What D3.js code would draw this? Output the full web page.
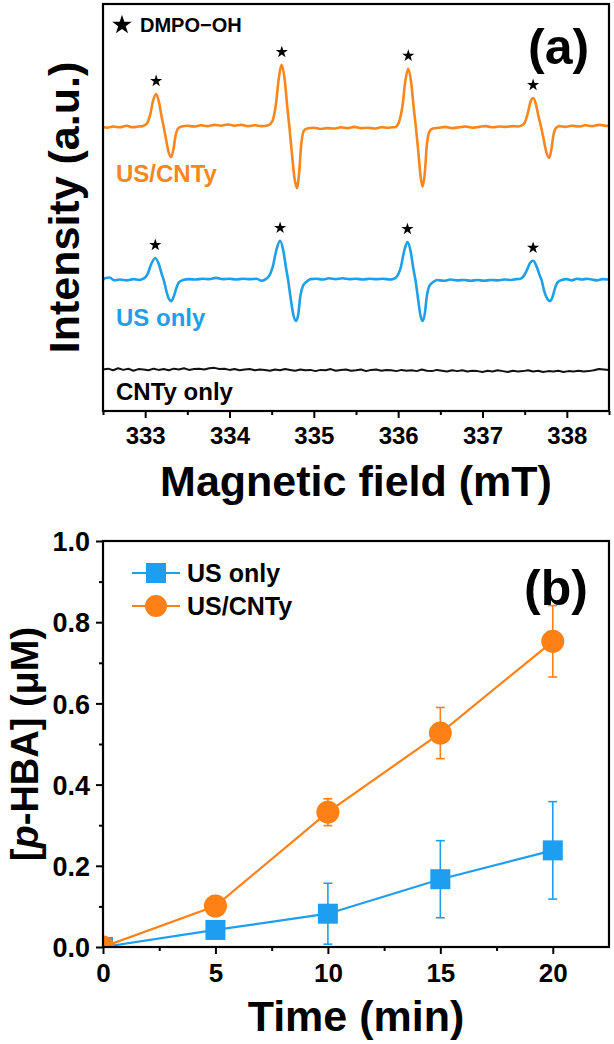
<!DOCTYPE html>
<html><head><meta charset="utf-8">
<script src="https://cdn.jsdelivr.net/npm/d3@7"></script>
<style>
body{margin:0;background:#fff}
svg{display:block}
text{font-family:"Liberation Sans",Arial,Helvetica,sans-serif;font-weight:bold;fill:#000}
</style>
</head><body>
<svg id="chart" width="614" height="1044"></svg>
<script>
// ---------------- Panel (a): EPR spectra ----------------
const fieldDomain = [332.5, 338.5];
const fieldTicks = [333, 334, 335, 336, 337, 338];
const fieldMinorTicks = [332.5, 333.5, 334.5, 335.5, 336.5, 337.5, 338.5];
const traceNames = ["US/CNTy", "US only", "CNTy only"];
const traceColors = ["#F6871E", "#1F9FE8", "#111111"];
const traceOffsets = [69.8, 32.2, 10.1];   // vertical stacking offsets (a.u.)
const starLabel = "DMPO\u2212OH";

// US/CNTy spectrum [field (mT), intensity (a.u.)]
const spectrumUSCNTy = [
[332.50,0.0],[332.55,-0.2],[332.62,0.1],[332.70,-0.1],[332.78,0.3],[332.85,-0.1],[332.92,0.1],
[332.97,0.2],[333.02,0.8],[333.06,3.0],[333.095,6.5],[333.13,8.1],[333.165,6.0],[333.195,2.5],[333.22,0.0],[333.25,-3.3],[333.28,-6.3],[333.31,-7.4],[333.335,-5.5],[333.36,-2.2],[333.39,-0.4],[333.43,0.1],
[333.50,0.3],[333.58,0.1],[333.66,0.4],[333.74,0.2],[333.82,0.5],[333.90,0.3],[333.98,0.6],[334.06,0.3],[334.14,0.5],[334.22,0.2],[334.30,0.4],[334.38,0.2],[334.44,0.3],
[334.47,0.5],[334.51,1.5],[334.55,5.5],[334.585,12.0],[334.62,15.2],[334.655,11.5],[334.685,5.0],[334.71,0.0],[334.74,-6.5],[334.77,-12.5],[334.80,-15.0],[334.825,-11.5],[334.85,-4.5],[334.88,-1.0],[334.92,-0.4],
[335.00,-0.2],[335.08,-0.5],[335.16,-0.3],[335.24,-0.4],[335.32,-0.1],[335.40,-0.3],[335.48,0.0],[335.56,-0.3],[335.64,-0.2],[335.72,-0.4],[335.80,-0.1],[335.88,-0.2],[335.94,-0.1],
[335.97,0.0],[336.01,1.2],[336.05,5.0],[336.085,11.3],[336.12,14.3],[336.155,10.8],[336.185,4.6],[336.21,0.0],[336.24,-6.3],[336.265,-12.0],[336.29,-14.7],[336.315,-11.5],[336.34,-4.5],[336.37,-1.2],[336.41,-0.4],
[336.48,-0.2],[336.56,0.0],[336.64,-0.3],[336.72,-0.1],[336.80,0.1],[336.88,-0.2],[336.96,0.0],[337.04,0.2],[337.12,-0.1],[337.20,0.1],[337.28,0.0],[337.36,0.2],[337.42,0.1],
[337.46,0.3],[337.50,1.0],[337.535,3.2],[337.57,6.2],[337.60,7.1],[337.635,5.5],[337.665,2.5],[337.695,0.0],[337.725,-3.0],[337.755,-6.0],[337.79,-7.6],[337.815,-5.8],[337.84,-2.2],[337.87,-0.3],[337.91,0.2],
[337.98,0.0],[338.06,0.3],[338.14,0.1],[338.22,0.4],[338.30,0.2],[338.38,0.5],[338.46,0.3],[338.50,0.2]
];

// US only spectrum
const spectrumUS = [
[332.50,0.0],[332.53,0.5],[332.58,0.6],[332.63,-0.1],[332.70,0.1],[332.78,-0.1],[332.86,0.2],[332.93,0.0],
[332.98,0.3],[333.03,1.5],[333.07,3.8],[333.12,5.4],[333.16,4.0],[333.20,1.2],[333.22,0.0],[333.25,-2.6],[333.28,-4.6],[333.31,-5.2],[333.34,-4.0],[333.37,-2.0],[333.40,-0.6],[333.45,0.0],
[333.52,0.2],[333.60,0.1],[333.68,0.3],[333.76,0.2],[333.84,0.5],[333.92,0.2],[334.00,0.3],[334.08,0.1],[334.16,0.3],[334.24,0.2],[334.32,0.3],[334.38,-0.2],[334.43,0.2],
[334.47,1.0],[334.51,3.0],[334.555,7.3],[334.60,9.6],[334.64,7.0],[334.67,3.0],[334.695,0.0],[334.725,-4.5],[334.76,-8.8],[334.79,-10.1],[334.815,-8.5],[334.84,-4.0],[334.87,-1.5],[334.91,-0.5],[334.96,0.2],
[335.03,0.3],[335.10,0.1],[335.18,0.4],[335.26,0.2],[335.34,0.4],[335.42,0.2],[335.50,0.3],[335.58,0.1],[335.66,0.3],[335.74,0.2],[335.82,0.3],[335.90,0.1],[335.95,0.3],
[335.99,1.0],[336.03,3.0],[336.07,7.0],[336.11,9.3],[336.15,6.8],[336.18,2.8],[336.205,0.0],[336.235,-4.5],[336.265,-8.8],[336.29,-10.1],[336.315,-8.4],[336.34,-4.0],[336.37,-1.5],[336.41,-0.6],[336.46,0.0],
[336.54,-0.2],[336.62,0.1],[336.70,-0.1],[336.78,0.0],[336.86,-0.2],[336.94,0.0],[337.02,-0.2],[337.10,0.0],[337.18,-0.1],[337.26,0.1],[337.34,0.0],[337.40,0.2],[337.45,0.3],
[337.49,1.0],[337.53,2.6],[337.565,4.2],[337.60,4.7],[337.64,3.4],[337.68,1.0],[337.70,0.0],[337.73,-2.6],[337.77,-4.7],[337.80,-5.2],[337.83,-4.2],[337.86,-2.0],[337.89,-0.6],[337.94,0.0],
[338.00,0.2],[338.06,-0.1],[338.12,0.3],[338.18,0.1],[338.24,0.3],[338.30,0.1],[338.36,-0.1],[338.42,0.2],[338.50,0.1]
];

// CNTy only spectrum, sampled every 0.06 mT from 332.5 mT
const cntyStart = 332.5, cntyStep = 0.06;
const spectrumCNTyValues = [
0.1,0.3,-0.1,0.4,0.0,0.3,-0.2,0.2,0.1,-0.1,
0.3,0.0,0.2,-0.1,0.3,0.1,0.4,0.0,0.2,0.3,
0.1,0.4,0.5,0.2,0.3,0.0,0.2,-0.1,0.1,0.2,
-0.1,0.1,0.0,-0.2,0.1,-0.1,0.2,0.0,-0.2,0.1,
-0.1,0.0,-0.3,0.0,-0.1,0.2,-0.2,0.0,0.1,-0.2,
-0.1,0.1,-0.3,0.0,0.1,-0.2,0.0,-0.1,-0.3,0.0,
-0.2,-0.1,-0.3,0.1,-0.2,-0.3,0.0,-0.2,-0.4,-0.1,
-0.3,-0.1,-0.4,-0.2,-0.3,-0.5,-0.2,-0.4,-0.1,-0.3,
-0.5,-0.2,-0.4,-0.3,-0.1,-0.4,-0.2,-0.5,-0.3,-0.4,
-0.2,-0.5,-0.3,-0.4,-0.2,-0.4,-0.3,-0.1,0.2,0.1,0.0
];

// DMPO-OH peak positions (mT) marked by stars
const starFieldsUSCNTy = [333.13, 334.62, 336.12, 337.60];
const starFieldsUS = [333.12, 334.60, 336.11, 337.60];

// ---------------- Panel (b): p-HBA formation ----------------
const timeMin = [0, 5, 10, 15, 20];
const timeTicks = [0, 5, 10, 15, 20];
const timeMinorTicks = [2.5, 7.5, 12.5, 17.5];
const hbaTicks = [0, 0.2, 0.4, 0.6, 0.8, 1.0];
const hbaMinorTicks = [0.1, 0.3, 0.5, 0.7, 0.9];
const seriesNames = ["US only", "US/CNTy"];
const seriesColors = ["#1E9EF0", "#FF8116"];
const hbaUSonly = [0.0, 0.042, 0.082, 0.167, 0.238];
const hbaUSonlyErr = [0.01, 0.01, 0.075, 0.095, 0.12];
const hbaUSCNTy = [0.0, 0.101, 0.332, 0.527, 0.753];
const hbaUSCNTyErr = [0.005, 0.01, 0.033, 0.063, 0.088];

// ================= Drawing =================
const svg = d3.select("#chart");

// ---- panel a ----
const A = {l:103, r:609, t:4, b:411};
const xA = d3.scaleLinear().domain(fieldDomain).range([A.l, A.r]);
const yA = d3.scaleLinear().domain([0, 100]).range([A.b, A.t]);

const cntyData = spectrumCNTyValues.map((v, i) => [cntyStart + i * cntyStep, v]);
const spectra = [spectrumUSCNTy, spectrumUS, cntyData];

svg.append("clipPath").attr("id", "clipA")
  .append("rect").attr("x", A.l).attr("y", A.t).attr("width", A.r - A.l).attr("height", A.b - A.t);

const gA = svg.append("g").attr("clip-path", "url(#clipA)");
spectra.forEach((data, i) => {
  const line = d3.line()
    .x(d => xA(d[0]))
    .y(d => yA(d[1] + traceOffsets[i]))
    .curve(i === 2 ? d3.curveLinear : d3.curveMonotoneX);
  gA.append("path").datum(data)
    .attr("d", line).attr("fill", "none")
    .attr("stroke", traceColors[i]).attr("stroke-width", i === 2 ? 2 : 2.6)
    .attr("stroke-linejoin", "round");
});

// stars above peaks
const star = d3.symbol().type(d3.symbolStar);
[[starFieldsUSCNTy, spectrumUSCNTy, 0], [starFieldsUS, spectrumUS, 1]].forEach(([fields, data, i]) => {
  fields.forEach(f => {
    const near = data.filter(d => Math.abs(d[0] - f) < 0.06);
    const peak = d3.max(near, d => d[1]);
    svg.append("path").attr("d", star.size(46)())
      .attr("transform", `translate(${xA(f)},${yA(peak + traceOffsets[i]) - 13})`)
      .attr("fill", "#000");
  });
});

// trace labels
const traceLabelY = [182, 326, 400];
traceNames.forEach((n, i) => {
  svg.append("text").attr("x", 116).attr("y", traceLabelY[i])
    .attr("font-size", 24).style("fill", i === 2 ? "#000" : traceColors[i]).text(n);
});

// star legend
svg.append("path").attr("d", star.size(120)()).attr("transform", "translate(122,25)").attr("fill", "#000");
svg.append("text").attr("x", 140).attr("y", 32).attr("font-size", 20).text(starLabel);
svg.append("text").attr("x", 528).attr("y", 64).attr("font-size", 50).text("(a)");

// axes a
const axA = svg.append("g").attr("transform", `translate(0,${A.b})`)
  .call(d3.axisBottom(xA).tickValues(fieldTicks).tickSize(7).tickPadding(5).tickFormat(d3.format("d")));
axA.select(".domain").remove();
axA.selectAll("line").attr("stroke", "#000").attr("stroke-width", 2);
axA.selectAll("text").attr("font-size", 24).attr("dy", null).attr("y", 33).style("font-family", null);
const axAm = svg.append("g").attr("transform", `translate(0,${A.b})`)
  .call(d3.axisBottom(xA).tickValues(fieldMinorTicks).tickSize(4).tickFormat(""));
axAm.select(".domain").remove();
axAm.selectAll("line").attr("stroke", "#000").attr("stroke-width", 2);

svg.append("rect").attr("x", A.l).attr("y", A.t).attr("width", A.r - A.l).attr("height", A.b - A.t)
  .attr("fill", "none").attr("stroke", "#000").attr("stroke-width", 2.2);

svg.append("text").attr("x", (A.l + A.r) / 2).attr("y", 496).attr("text-anchor", "middle")
  .attr("font-size", 43).text("Magnetic field (mT)");
svg.append("text").attr("transform", `translate(79,${(A.t + A.b) / 2}) rotate(-90)`)
  .attr("text-anchor", "middle").attr("font-size", 43).text("Intensity (a.u.)");

// ---- panel b ----
const B = {l:103, r:609, t:541, b:947};
const xB = d3.scaleLinear().domain([0, 22.5]).range([B.l, B.r]);
const yB = d3.scaleLinear().domain([0, 1.0]).range([B.b, B.t]);

svg.append("clipPath").attr("id", "clipB")
  .append("rect").attr("x", B.l).attr("y", B.t).attr("width", B.r - B.l).attr("height", B.b - B.t);
const gB = svg.append("g").attr("clip-path", "url(#clipB)");

const series = [
  {vals: hbaUSonly, errs: hbaUSonlyErr, color: seriesColors[0], shape: "square"},
  {vals: hbaUSCNTy, errs: hbaUSCNTyErr, color: seriesColors[1], shape: "circle"}
];
series.forEach(s => {
  const pts = timeMin.map((t, i) => ({t, v: s.vals[i], e: s.errs[i]}));
  gB.append("path").datum(pts)
    .attr("d", d3.line().x(d => xB(d.t)).y(d => yB(d.v)))
    .attr("fill", "none").attr("stroke", s.color).attr("stroke-width", 2.2);
  const eb = gB.append("g").attr("stroke", s.color).attr("stroke-width", 1.6);
  pts.forEach(d => {
    const x = xB(d.t), y1 = yB(d.v + d.e), y2 = yB(d.v - d.e);
    eb.append("line").attr("x1", x).attr("x2", x).attr("y1", y1).attr("y2", y2);
    eb.append("line").attr("x1", x - 4.5).attr("x2", x + 4.5).attr("y1", y1).attr("y2", y1);
    eb.append("line").attr("x1", x - 4.5).attr("x2", x + 4.5).attr("y1", y2).attr("y2", y2);
  });
  pts.forEach(d => {
    if (s.shape === "square") {
      gB.append("rect").attr("x", xB(d.t) - 10).attr("y", yB(d.v) - 10)
        .attr("width", 20).attr("height", 20).attr("fill", s.color);
    } else {
      gB.append("circle").attr("cx", xB(d.t)).attr("cy", yB(d.v)).attr("r", 11.5).attr("fill", s.color);
    }
  });
});

// legend b
const legY = [573, 606];
series.forEach((s, i) => {
  svg.append("line").attr("x1", 132).attr("x2", 180).attr("y1", legY[i]).attr("y2", legY[i])
    .attr("stroke", s.color).attr("stroke-width", 2.2);
  if (s.shape === "square") {
    svg.append("rect").attr("x", 146).attr("y", legY[i] - 10).attr("width", 20).attr("height", 20).attr("fill", s.color);
  } else {
    svg.append("circle").attr("cx", 156).attr("cy", legY[i]).attr("r", 11).attr("fill", s.color);
  }
  svg.append("text").attr("x", 187).attr("y", legY[i] + 9).attr("font-size", 25).text(seriesNames[i]);
});
svg.append("text").attr("x", 524).attr("y", 605).attr("font-size", 50).text("(b)");

// axes b
const axBx = svg.append("g").attr("transform", `translate(0,${B.b})`)
  .call(d3.axisBottom(xB).tickValues(timeTicks).tickSize(7).tickFormat(d3.format("d")));
axBx.select(".domain").remove();
axBx.selectAll("line").attr("stroke", "#000").attr("stroke-width", 2);
axBx.selectAll("text").attr("font-size", 26).attr("dy", null).attr("y", 35).style("font-family", null);
const axBxm = svg.append("g").attr("transform", `translate(0,${B.b})`)
  .call(d3.axisBottom(xB).tickValues(timeMinorTicks).tickSize(4).tickFormat(""));
axBxm.select(".domain").remove();
axBxm.selectAll("line").attr("stroke", "#000").attr("stroke-width", 2);

const axBy = svg.append("g").attr("transform", `translate(${B.l},0)`)
  .call(d3.axisLeft(yB).tickValues(hbaTicks).tickSize(7).tickPadding(6).tickFormat(d3.format(".1f")));
axBy.select(".domain").remove();
axBy.selectAll("line").attr("stroke", "#000").attr("stroke-width", 2);
axBy.selectAll("text").attr("font-size", 27).attr("dy", "0.36em").style("font-family", null);
const axBym = svg.append("g").attr("transform", `translate(${B.l},0)`)
  .call(d3.axisLeft(yB).tickValues(hbaMinorTicks).tickSize(4).tickFormat(""));
axBym.select(".domain").remove();
axBym.selectAll("line").attr("stroke", "#000").attr("stroke-width", 2);

svg.append("rect").attr("x", B.l).attr("y", B.t).attr("width", B.r - B.l).attr("height", B.b - B.t)
  .attr("fill", "none").attr("stroke", "#000").attr("stroke-width", 2.2);

svg.append("text").attr("x", (B.l + B.r) / 2).attr("y", 1031).attr("text-anchor", "middle")
  .attr("font-size", 43).text("Time (min)");
const yl = svg.append("text").attr("transform", `translate(38,${(B.t + B.b) / 2}) rotate(-90)`)
  .attr("text-anchor", "middle").attr("font-size", 38);
yl.append("tspan").text("[");
yl.append("tspan").style("font-style", "italic").text("p");
yl.append("tspan").text("-HBA] (\u03BCM)");
</script>
</body></html>
